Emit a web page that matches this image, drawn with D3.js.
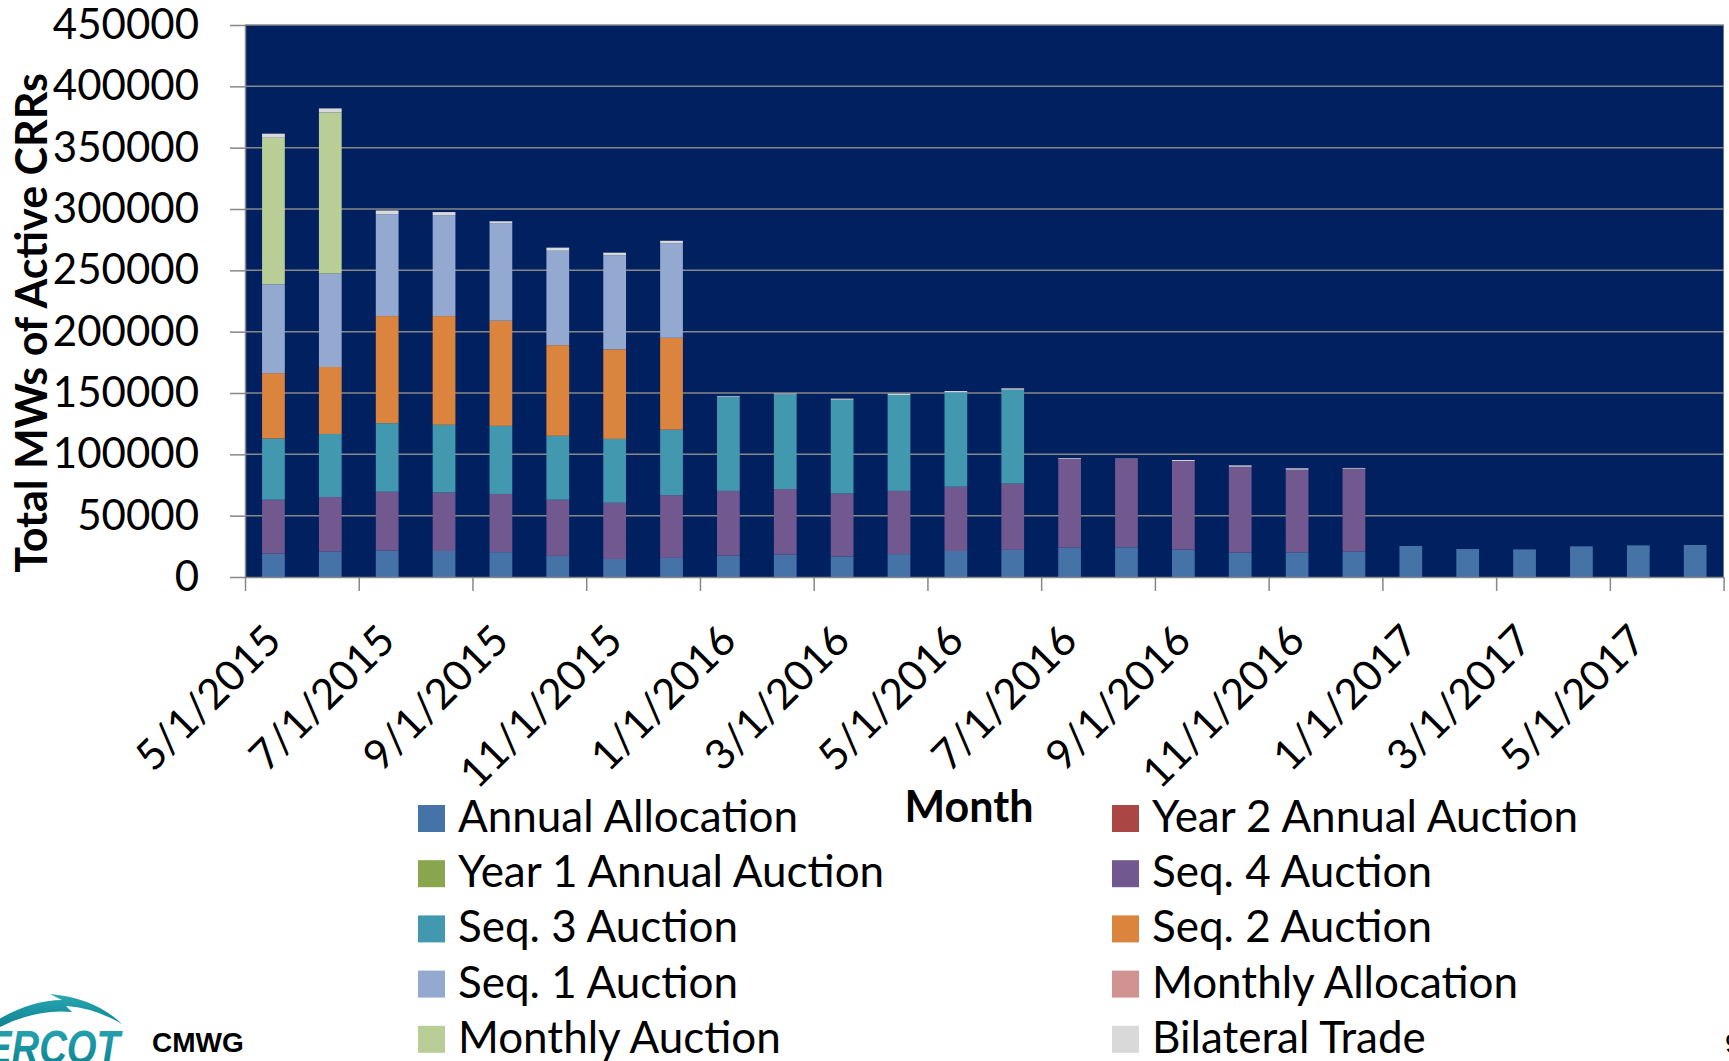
<!DOCTYPE html>
<html>
<head>
<meta charset="utf-8">
<script src="https://cdn.jsdelivr.net/npm/d3@7"></script>
<style>
  body { margin: 0; background: #fff; }
  svg text { font-family: Lato, "Noto Sans", sans-serif; fill: #000; }
</style>
</head>
<body>
<svg id="chart" width="1729" height="1061"></svg>
<script>
// categories (one bar per month)
var months = ["5/1/2015", "6/1/2015", "7/1/2015", "8/1/2015", "9/1/2015", "10/1/2015",
  "11/1/2015", "12/1/2015", "1/1/2016", "2/1/2016", "3/1/2016", "4/1/2016", "5/1/2016",
  "6/1/2016", "7/1/2016", "8/1/2016", "9/1/2016", "10/1/2016", "11/1/2016", "12/1/2016",
  "1/1/2017", "2/1/2017", "3/1/2017", "4/1/2017", "5/1/2017", "6/1/2017"];

var yTicks = [0, 50000, 100000, 150000, 200000, 250000, 300000, 350000, 400000, 450000];

// MWs per series
var annualAllocation = [19000, 20600, 21500, 21200, 20300, 17200, 14700, 15600, 17500, 18400, 16800, 18700, 21200,
  22100, 23900, 24200, 22300, 19800, 20100, 20600, 25300, 22800, 22500, 25000, 25800, 26100];
var year2AnnualAuction = [0, 0, 0, 0, 0, 0, 0, 0, 0, 0, 0, 0, 0, 0, 0, 0, 0, 0, 0, 0, 0, 0, 0, 0, 0, 0];
var year1AnnualAuction = [0, 0, 0, 0, 0, 0, 0, 0, 0, 0, 0, 0, 0, 0, 0, 0, 0, 0, 0, 0, 0, 0, 0, 0, 0, 0];
var seq4Auction = [44000, 44600, 48000, 47700, 47400, 45800, 45800, 51100, 52700, 53300, 51200, 51500, 52400,
  54000, 72500, 72000, 72300, 70100, 67400, 67700, 0, 0, 0, 0, 0, 0];
var seq3Auction = [49900, 51400, 55900, 55200, 55500, 52100, 52100, 53400, 76800, 77200, 76500, 78200, 77000,
  76600, 0, 0, 0, 0, 0, 0, 0, 0, 0, 0, 0, 0];
var seq2Auction = [53300, 54600, 87300, 88600, 85700, 73900, 73000, 74900, 0, 0, 0, 0, 0,
  0, 0, 0, 0, 0, 0, 0, 0, 0, 0, 0, 0, 0];
var seq1Auction = [72400, 76100, 82900, 82300, 79600, 77000, 76700, 76900, 0, 0, 0, 0, 0,
  0, 0, 0, 0, 0, 0, 0, 0, 0, 0, 0, 0, 0];
var monthlyAllocation = [0, 0, 0, 0, 0, 0, 0, 0, 0, 0, 0, 0, 0, 0, 0, 0, 0, 0, 0, 0, 0, 0, 0, 0, 0, 0];
var monthlyAuction = [119500, 131500, 0, 0, 0, 0, 0, 0, 0, 0, 0, 0, 0,
  0, 0, 0, 0, 0, 0, 0, 0, 0, 0, 0, 0, 0];
var bilateralTrade = [3300, 3200, 3200, 2500, 1500, 2500, 2100, 2200, 600, 600, 900, 1000, 1000,
  1100, 600, 300, 800, 1100, 1100, 600, 0, 0, 0, 0, 0, 0];

// series in legend order (stack order bottom -> top)
var seriesNames = ["Annual Allocation", "Year 2 Annual Auction", "Year 1 Annual Auction", "Seq. 4 Auction",
  "Seq. 3 Auction", "Seq. 2 Auction", "Seq. 1 Auction", "Monthly Allocation", "Monthly Auction", "Bilateral Trade"];
var seriesValues = [annualAllocation, year2AnnualAuction, year1AnnualAuction, seq4Auction, seq3Auction,
  seq2Auction, seq1Auction, monthlyAllocation, monthlyAuction, bilateralTrade];
var seriesColors = ["#4572A7", "#AA4643", "#89A54E", "#71588F", "#4198AF",
  "#DB843D", "#93A9CF", "#D19392", "#B9CD96", "#D9D9D9"];

var svg = d3.select("#chart");

// plot area edges (note: "top" is taken by window.top)
var plotLeft = 245, plotRight = 1723.6, plotTop = 25, plotBottom = 577;

// build rows for d3.stack
var table = months.map(function (m, i) {
  var row = { month: m };
  seriesNames.forEach(function (s, j) { row[s] = seriesValues[j][i]; });
  return row;
});

var x = d3.scaleBand()
  .domain(months)
  .range([plotLeft, plotRight])
  .paddingInner(0.6)
  .paddingOuter(0.3);

// category boundaries, used for the x tick marks
var xEdge = d3.scaleLinear().domain([0, months.length]).range([plotLeft, plotRight]);

var y = d3.scaleLinear().domain([0, 450000]).range([plotBottom, plotTop]);

var color = d3.scaleOrdinal().domain(seriesNames).range(seriesColors);

// plot background
svg.append("rect")
  .attr("x", plotLeft)
  .attr("y", plotTop)
  .attr("width", plotRight - plotLeft)
  .attr("height", plotBottom - plotTop)
  .attr("fill", "#002060");

// gridlines
svg.append("g")
  .selectAll("line")
  .data(yTicks.slice(1))
  .enter().append("line")
    .attr("x1", plotLeft)
    .attr("x2", plotRight)
    .attr("y1", function (d) { return y(d); })
    .attr("y2", function (d) { return y(d); })
    .attr("stroke", "#878787")
    .attr("stroke-width", 1.5);

// stacked bars
var stack = d3.stack().keys(seriesNames);
var layers = svg.append("g")
  .selectAll("g")
  .data(stack(table))
  .enter().append("g")
    .attr("fill", function (d) { return color(d.key); });

layers.selectAll("rect")
  .data(function (d) { return d.filter(function (v) { return v[1] - v[0] > 0; }); })
  .enter().append("rect")
    .attr("x", function (d) { return x(d.data.month); })
    .attr("y", function (d) { return y(d[1]); })
    .attr("width", x.bandwidth())
    .attr("height", function (d) { return y(d[0]) - y(d[1]); });

// y axis
var yAxis = svg.append("g")
  .attr("transform", "translate(" + plotLeft + ",0)")
  .call(d3.axisLeft(y).tickValues(yTicks).tickSize(15).tickSizeOuter(0).tickPadding(31).tickFormat(d3.format("d")));
yAxis.select(".domain").attr("stroke", "#878787").attr("stroke-width", 1.5);
yAxis.selectAll(".tick line").attr("stroke", "#878787").attr("stroke-width", 1.5);
yAxis.selectAll(".tick text")
  .attr("font-size", "42px")
  .attr("font-family", "Lato")
  .attr("fill", "#000");

// x axis (ticks between every second category)
var xAxis = svg.append("g")
  .attr("transform", "translate(0," + plotBottom + ")")
  .call(d3.axisBottom(xEdge).tickValues(d3.range(0, months.length + 1, 2)).tickSize(14).tickSizeOuter(0).tickFormat(""));
xAxis.select(".domain").attr("stroke", "#878787").attr("stroke-width", 1.5);
xAxis.selectAll(".tick line").attr("stroke", "#878787").attr("stroke-width", 1.5);

svg.append("g")
  .selectAll("text")
  .data(months.filter(function (m, i) { return i % 2 == 0; }))
  .enter().append("text")
    .attr("transform", function (d) {
      return "translate(" + (x(d) + x.bandwidth() / 2 + 10) + "," + (plotBottom + 66) + ") rotate(-45)";
    })
    .attr("text-anchor", "end")
    .attr("font-size", "42px")
    .text(function (d) { return d; });

// axis titles
svg.append("text")
  .attr("transform", "translate(47," + ((plotTop + plotBottom) / 2 + 22) + ") rotate(-90)")
  .attr("text-anchor", "middle")
  .attr("font-size", "43px")
  .attr("font-weight", "bold")
  .text("Total MWs of Active CRRs");

svg.append("text")
  .attr("x", 969)
  .attr("y", 822)
  .attr("text-anchor", "middle")
  .attr("font-size", "43px")
  .attr("font-weight", "bold")
  .text("Month");

// legend, two columns
var legend = svg.append("g")
  .selectAll("g")
  .data(seriesNames)
  .enter().append("g")
    .attr("transform", function (d, i) {
      var lx = (i % 2 == 0) ? 418 : 1112;
      var ly = 805 + Math.floor(i / 2) * 55.2;
      return "translate(" + lx + "," + ly + ")";
    });

legend.append("rect")
  .attr("width", 27)
  .attr("height", 27)
  .attr("fill", function (d) { return color(d); });

legend.append("text")
  .attr("x", 40)
  .attr("y", 27)
  .attr("font-size", "44px")
  .text(function (d) { return d; });

// footer: logo, group name, page number
var grad = svg.append("defs").append("linearGradient")
  .attr("id", "teal")
  .attr("x1", 0).attr("y1", 0).attr("x2", 0).attr("y2", 1);
grad.append("stop").attr("offset", "0%").attr("stop-color", "#2aa9b4");
grad.append("stop").attr("offset", "100%").attr("stop-color", "#0b7d8e");

var logo = svg.append("g");
logo.append("path")
  .attr("d", "M -6,1022 Q 30,1000 62,1000 L 50,994 Q 95,998 122,1024 Q 95,1008 66,1006 L 72,1012 Q 35,1008 -6,1030 Z")
  .attr("fill", "url(#teal)");

logo.append("text")
  .attr("x", -14)
  .attr("y", 1064)
  .attr("font-size", "48px")
  .attr("font-weight", "bold")
  .attr("font-style", "italic")
  .attr("textLength", 134)
  .attr("lengthAdjust", "spacingAndGlyphs")
  .style("font-family", "Liberation Sans")
  .style("fill", "url(#teal)")
  .text("ERCOT");

svg.append("text")
  .attr("x", 152)
  .attr("y", 1052)
  .style("font-family", "Liberation Sans")
  .attr("font-size", "28px")
  .attr("font-weight", "bold")
  .text("CMWG");

svg.append("text")
  .attr("x", 1725)
  .attr("y", 1053)
  .style("font-family", "Liberation Sans")
  .attr("font-size", "28px")
  .text("9");
</script>
</body>
</html>
